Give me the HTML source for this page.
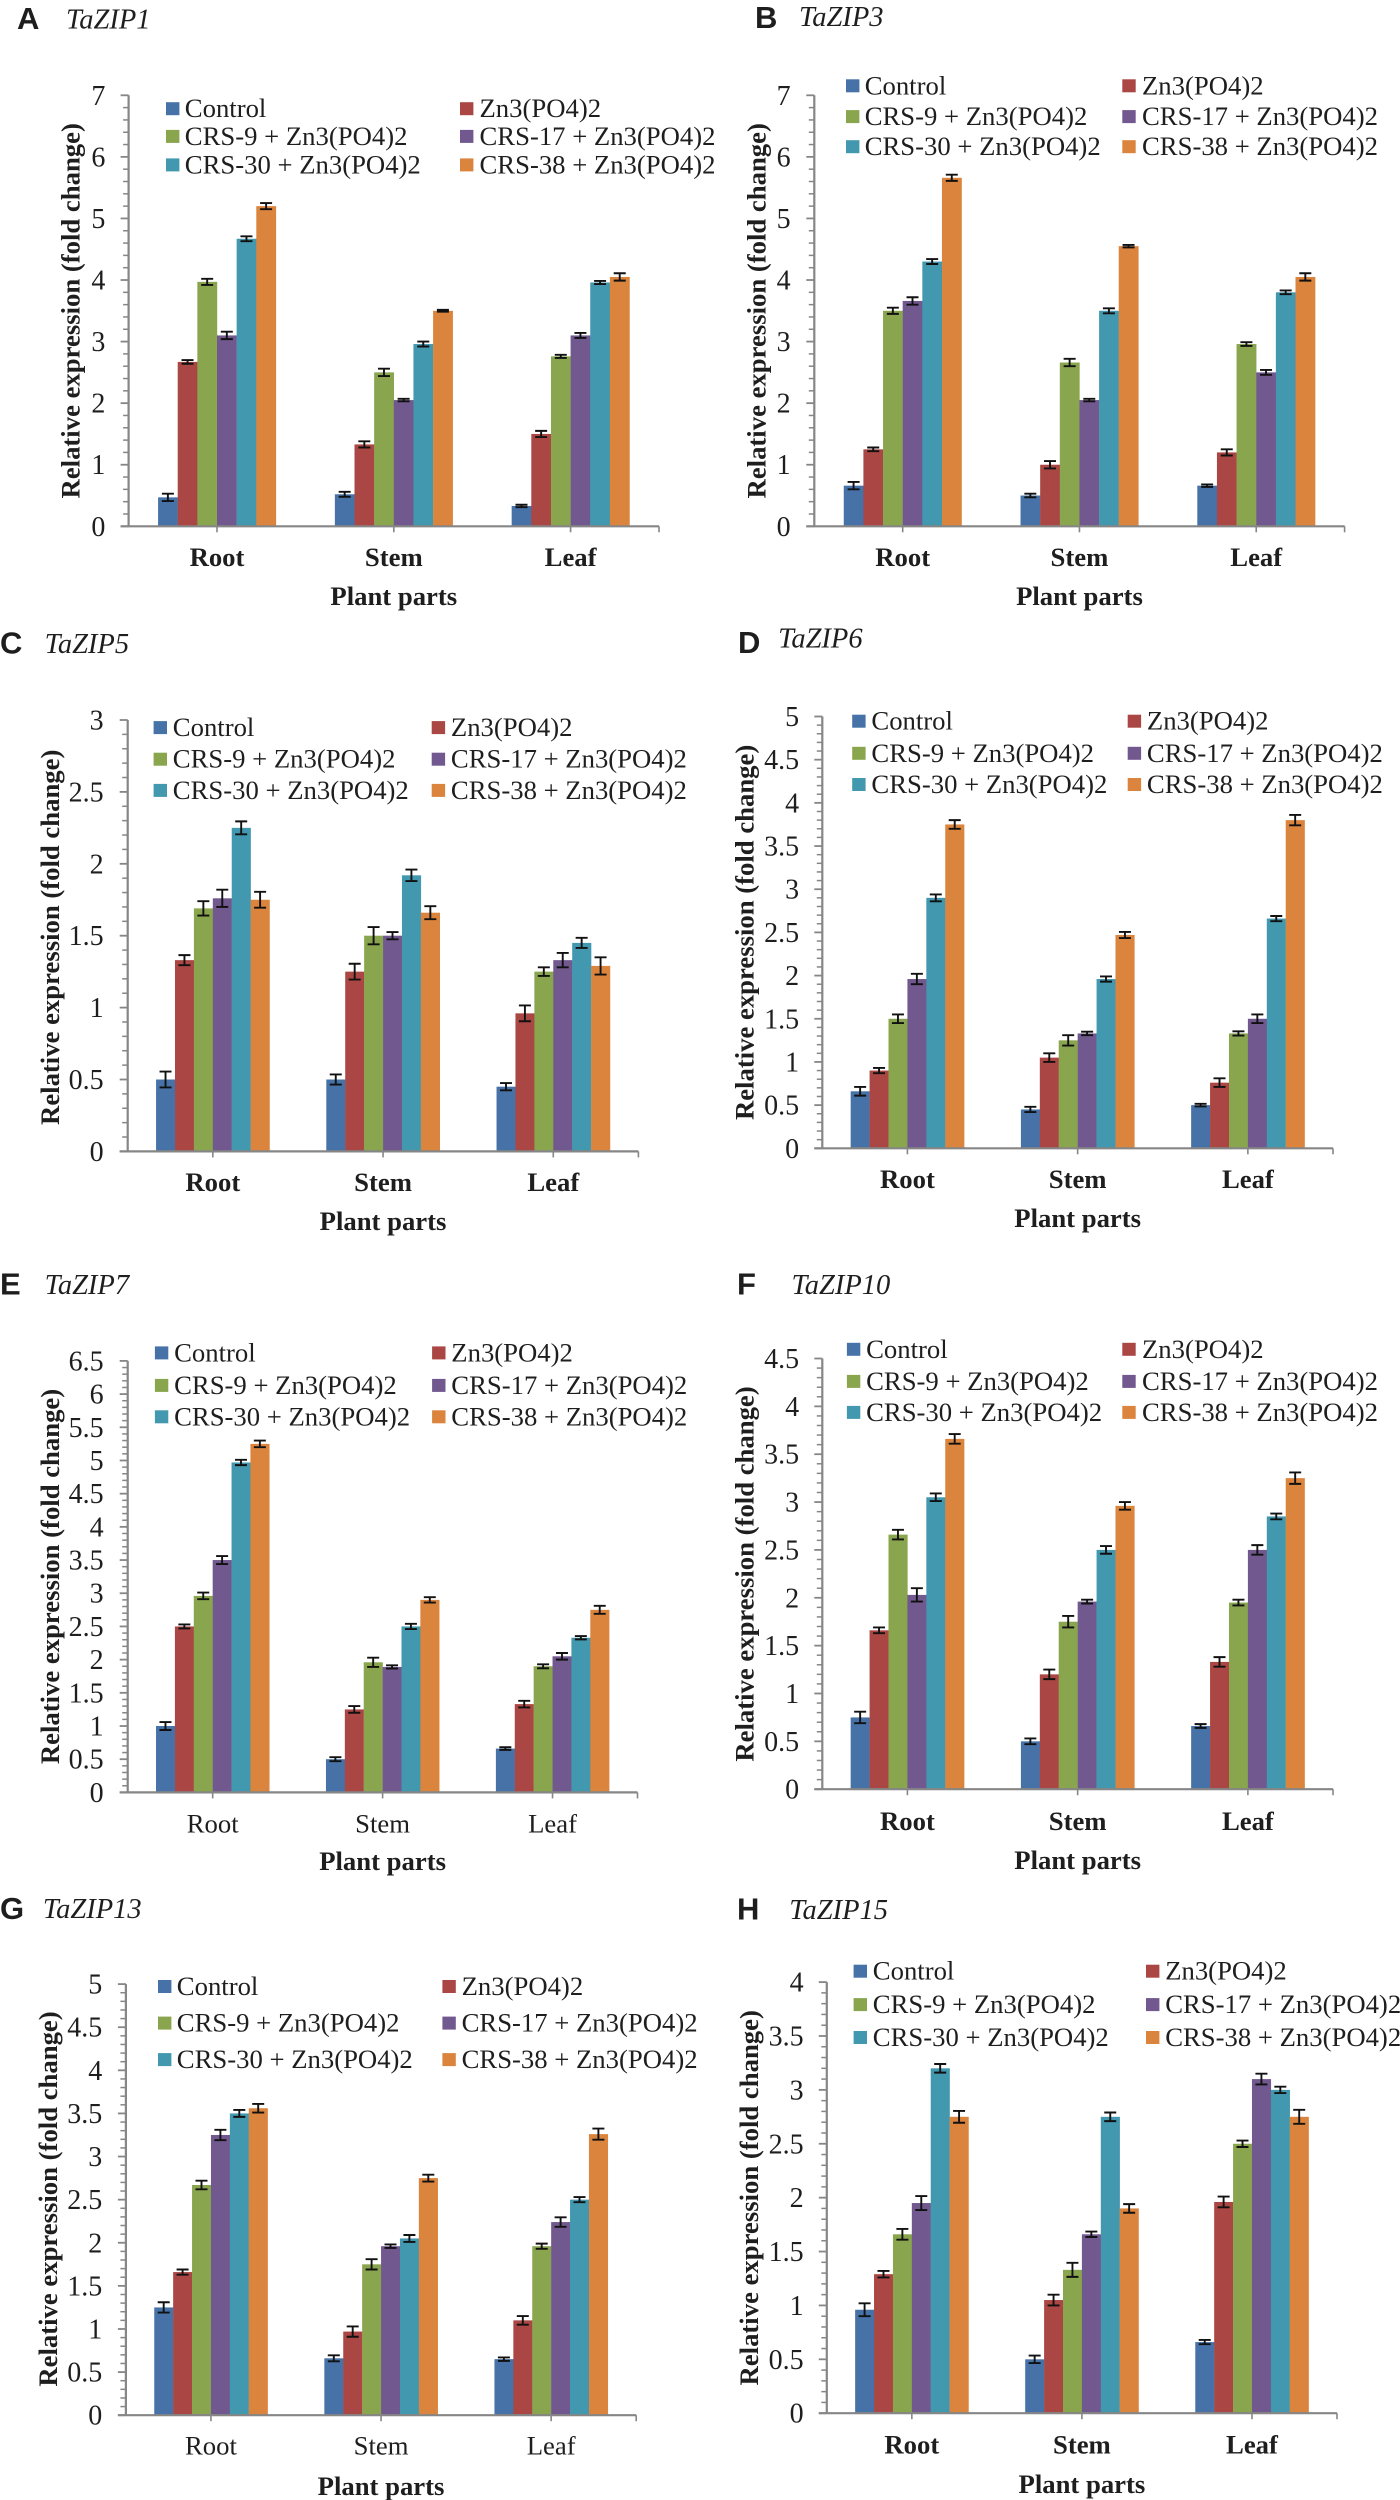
<!DOCTYPE html>
<html lang="en">
<head>
<meta charset="utf-8">
<title>TaZIP relative expression in plant parts</title>
<style>
  html, body { margin: 0; padding: 0; background: #ffffff; }
  svg { display: block; }
  text { fill: #1e1e1e; font-family: "Liberation Serif", serif; }
</style>
</head>
<body>
<svg id="figure" xmlns="http://www.w3.org/2000/svg" width="1400" height="2500" viewBox="0 0 1400 2500">
  <rect x="0" y="0" width="1400" height="2500" fill="#ffffff"/>
</svg>
<script>
// ---- shared data ----
const categories = ['Root', 'Stem', 'Leaf'];
const seriesNames = ['Control', 'Zn3(PO4)2', 'CRS-9 + Zn3(PO4)2', 'CRS-17 + Zn3(PO4)2', 'CRS-30 + Zn3(PO4)2', 'CRS-38 + Zn3(PO4)2'];
const seriesColors = ['#4672a8', '#aa4643', '#89a54e', '#71588f', '#4198af', '#db843d'];

// ---- TaZIP1: one row per plant part, one value per series ----
const zip1Ticks = ['0', '1', '2', '3', '4', '5', '6', '7'];
const zip1Root = [0.47, 2.67, 3.97, 3.10, 4.67, 5.20];
const zip1Stem = [0.52, 1.33, 2.50, 2.05, 2.96, 3.50];
const zip1Leaf = [0.33, 1.50, 2.76, 3.10, 3.96, 4.05];
const zip1RootErr = [0.06, 0.03, 0.05, 0.06, 0.04, 0.05];
const zip1StemErr = [0.04, 0.05, 0.06, 0.02, 0.04, 0.015];
const zip1LeafErr = [0.02, 0.05, 0.025, 0.04, 0.025, 0.06];

// ---- TaZIP3 ----
const zip3Ticks = ['0', '1', '2', '3', '4', '5', '6', '7'];
const zip3Root = [0.66, 1.25, 3.50, 3.66, 4.30, 5.66];
const zip3Stem = [0.50, 1.00, 2.66, 2.05, 3.50, 4.55];
const zip3Leaf = [0.66, 1.20, 2.96, 2.50, 3.80, 4.05];
const zip3RootErr = [0.06, 0.03, 0.05, 0.06, 0.04, 0.05];
const zip3StemErr = [0.03, 0.06, 0.06, 0.02, 0.04, 0.02];
const zip3LeafErr = [0.02, 0.05, 0.03, 0.04, 0.03, 0.06];

// ---- TaZIP5 ----
const zip5Ticks = ['0', '0.5', '1', '1.5', '2', '2.5', '3'];
const zip5Root = [0.50, 1.33, 1.69, 1.76, 2.25, 1.75];
const zip5Stem = [0.50, 1.25, 1.50, 1.50, 1.92, 1.66];
const zip5Leaf = [0.45, 0.96, 1.25, 1.33, 1.45, 1.29];
const zip5RootErr = [0.055, 0.035, 0.05, 0.06, 0.045, 0.055];
const zip5StemErr = [0.035, 0.055, 0.06, 0.025, 0.04, 0.045];
const zip5LeafErr = [0.025, 0.055, 0.03, 0.05, 0.035, 0.06];

// ---- TaZIP6 ----
const zip6Ticks = ['0', '0.5', '1', '1.5', '2', '2.5', '3', '3.5', '4', '4.5', '5'];
const zip6Root = [0.66, 0.90, 1.50, 1.96, 2.90, 3.75];
const zip6Stem = [0.45, 1.05, 1.25, 1.33, 1.96, 2.47];
const zip6Leaf = [0.50, 0.76, 1.33, 1.50, 2.66, 3.80];
const zip6RootErr = [0.05, 0.03, 0.05, 0.06, 0.04, 0.05];
const zip6StemErr = [0.03, 0.05, 0.06, 0.02, 0.03, 0.035];
const zip6LeafErr = [0.015, 0.05, 0.025, 0.05, 0.03, 0.06];

// ---- TaZIP7 ----
const zip7Ticks = ['0', '0.5', '1', '1.5', '2', '2.5', '3', '3.5', '4', '4.5', '5', '5.5', '6', '6.5'];
const zip7Root = [1.00, 2.50, 2.96, 3.50, 4.97, 5.25];
const zip7Stem = [0.50, 1.25, 1.96, 1.89, 2.50, 2.90];
const zip7Leaf = [0.66, 1.33, 1.90, 2.05, 2.33, 2.75];
const zip7RootErr = [0.06, 0.03, 0.05, 0.06, 0.04, 0.05];
const zip7StemErr = [0.03, 0.05, 0.07, 0.025, 0.04, 0.04];
const zip7LeafErr = [0.02, 0.05, 0.03, 0.05, 0.025, 0.06];

// ---- TaZIP10 ----
const zip10Ticks = ['0', '0.5', '1', '1.5', '2', '2.5', '3', '3.5', '4', '4.5'];
const zip10Root = [0.75, 1.66, 2.66, 2.03, 3.05, 3.66];
const zip10Stem = [0.50, 1.20, 1.75, 1.96, 2.50, 2.96];
const zip10Leaf = [0.66, 1.33, 1.95, 2.50, 2.85, 3.25];
const zip10RootErr = [0.06, 0.03, 0.05, 0.07, 0.04, 0.05];
const zip10StemErr = [0.03, 0.05, 0.06, 0.02, 0.04, 0.04];
const zip10LeafErr = [0.02, 0.05, 0.03, 0.05, 0.03, 0.06];

// ---- TaZIP13 ----
const zip13Ticks = ['0', '0.5', '1', '1.5', '2', '2.5', '3', '3.5', '4', '4.5', '5'];
const zip13Root = [1.25, 1.66, 2.67, 3.25, 3.50, 3.56];
const zip13Stem = [0.66, 0.97, 1.75, 1.96, 2.05, 2.75];
const zip13Leaf = [0.65, 1.10, 1.96, 2.24, 2.50, 3.26];
const zip13RootErr = [0.06, 0.03, 0.05, 0.06, 0.04, 0.05];
const zip13StemErr = [0.035, 0.06, 0.06, 0.02, 0.04, 0.04];
const zip13LeafErr = [0.02, 0.05, 0.03, 0.055, 0.03, 0.065];

// ---- TaZIP15 ----
const zip15Ticks = ['0', '0.5', '1', '1.5', '2', '2.5', '3', '3.5', '4'];
const zip15Root = [0.96, 1.29, 1.66, 1.95, 3.20, 2.75];
const zip15Stem = [0.50, 1.05, 1.33, 1.66, 2.75, 1.90];
const zip15Leaf = [0.66, 1.96, 2.50, 3.10, 3.00, 2.75];
const zip15RootErr = [0.06, 0.03, 0.05, 0.065, 0.04, 0.055];
const zip15StemErr = [0.035, 0.05, 0.065, 0.025, 0.04, 0.04];
const zip15LeafErr = [0.02, 0.05, 0.03, 0.05, 0.03, 0.065];

// ---- panel layout (pixel geometry, separate from the data) ----
const panelLayouts = [
  { letter: 'A', gene: 'TaZIP1', ticks: zip1Ticks, values: [zip1Root, zip1Stem, zip1Leaf], errors: [zip1RootErr, zip1StemErr, zip1LeafErr], boldCats: true,
    axisX: 128.6, top: 95.3, base: 526.3, right: 659, letterX: 17, letterY: 29, geneX: 66, geneY: 28.5,
    swatch1: 166, text1: 184.8, swatch2: 460, text2: 479.5, rows: [108.7, 136.4, 164.9], tickRight: 105.4,
    titleX: 79.5, titleY: 310.8, catY: 566.2, xTitleY: 605 },
  { letter: 'B', gene: 'TaZIP3', ticks: zip3Ticks, values: [zip3Root, zip3Stem, zip3Leaf], errors: [zip3RootErr, zip3StemErr, zip3LeafErr], boldCats: true,
    axisX: 814.3, top: 95.3, base: 526.3, right: 1344.6, letterX: 755, letterY: 28, geneX: 799, geneY: 26.1,
    swatch1: 846, text1: 864.7, swatch2: 1122.3, text2: 1142, rows: [85.8, 116.6, 146.7], tickRight: 790.6,
    titleX: 765.6, titleY: 310.8, catY: 566.2, xTitleY: 605 },
  { letter: 'C', gene: 'TaZIP5', ticks: zip5Ticks, values: [zip5Root, zip5Stem, zip5Leaf], errors: [zip5RootErr, zip5StemErr, zip5LeafErr], boldCats: true,
    axisX: 127.7, top: 720, base: 1151.4, right: 638.4, letterX: 0, letterY: 653.5, geneX: 44.6, geneY: 652.8,
    swatch1: 153.6, text1: 172.8, swatch2: 431.7, text2: 450.9, rows: [727.6, 759.2, 790.4], tickRight: 103.6,
    titleX: 59, titleY: 937.3, catY: 1191, xTitleY: 1230 },
  { letter: 'D', gene: 'TaZIP6', ticks: zip6Ticks, values: [zip6Root, zip6Stem, zip6Leaf], errors: [zip6RootErr, zip6StemErr, zip6LeafErr], boldCats: true,
    axisX: 822.3, top: 716.5, base: 1148.3, right: 1333, letterX: 738, letterY: 653, geneX: 778.1, geneY: 647.7,
    swatch1: 852.2, text1: 871.4, swatch2: 1127.7, text2: 1146.9, rows: [721.2, 753.3, 784.5], tickRight: 799.1,
    titleX: 753.6, titleY: 932.4, catY: 1188.2, xTitleY: 1227 },
  { letter: 'E', gene: 'TaZIP7', ticks: zip7Ticks, values: [zip7Root, zip7Stem, zip7Leaf], errors: [zip7RootErr, zip7StemErr, zip7LeafErr], boldCats: false,
    axisX: 127.7, top: 1360.9, base: 1792.4, right: 637.5, letterX: 0, letterY: 1294.5, geneX: 44.6, geneY: 1294.2,
    swatch1: 154.9, text1: 174.1, swatch2: 432.1, text2: 451.3, rows: [1352.9, 1385.4, 1416.8], tickRight: 103.6,
    titleX: 59, titleY: 1576.5, catY: 1832.6, xTitleY: 1870 },
  { letter: 'F', gene: 'TaZIP10', ticks: zip10Ticks, values: [zip10Root, zip10Stem, zip10Leaf], errors: [zip10RootErr, zip10StemErr, zip10LeafErr], boldCats: true,
    axisX: 822.3, top: 1358.5, base: 1789.2, right: 1333, letterX: 737, letterY: 1294.5, geneX: 791.5, geneY: 1294.2,
    swatch1: 846.9, text1: 866.1, swatch2: 1122.3, text2: 1142, rows: [1349.3, 1381.4, 1412.4], tickRight: 799.1,
    titleX: 753.6, titleY: 1574, catY: 1829.8, xTitleY: 1869 },
  { letter: 'G', gene: 'TaZIP13', ticks: zip13Ticks, values: [zip13Root, zip13Stem, zip13Leaf], errors: [zip13RootErr, zip13StemErr, zip13LeafErr], boldCats: false,
    axisX: 125.9, top: 1984.1, base: 2415.2, right: 636.2, letterX: 0, letterY: 1918.8, geneX: 42.9, geneY: 1918.2,
    swatch1: 158, text1: 176.8, swatch2: 442.4, text2: 461.6, rows: [1986.5, 2023.1, 2059.6], tickRight: 102.2,
    titleX: 57.1, titleY: 2199, catY: 2454.6, xTitleY: 2494.8 },
  { letter: 'H', gene: 'TaZIP15', ticks: zip15Ticks, values: [zip15Root, zip15Stem, zip15Leaf], errors: [zip15RootErr, zip15StemErr, zip15LeafErr], boldCats: true,
    axisX: 826.8, top: 1982.1, base: 2413.2, right: 1337, letterX: 737, letterY: 1919.5, geneX: 789.3, geneY: 1919,
    swatch1: 853.6, text1: 872.8, swatch2: 1146, text2: 1165.2, rows: [1971.2, 2004.6, 2037.5], tickRight: 803.6,
    titleX: 758, titleY: 2197.8, catY: 2453.4, xTitleY: 2492.8 }
];

const SVG_NS = 'http://www.w3.org/2000/svg';
const AXIS_COLOR = '#868686';
const FIGURE = document.getElementById('figure');

function make(parent, tag, attrs, content) {
  const node = document.createElementNS(SVG_NS, tag);
  for (const key in attrs) node.setAttribute(key, attrs[key]);
  if (content !== undefined) node.textContent = content;
  parent.appendChild(node);
  return node;
}

function drawPanel(p) {
  const slug = p.gene.toLowerCase();
  const tickValues = p.ticks.map(Number);
  const yMax = tickValues[tickValues.length - 1];
  const yMin = tickValues[0];
  const yScale = function (v) { return p.base - (v - yMin) / (yMax - yMin) * (p.base - p.top); };
  const groupWidth = (p.right - p.axisX) / categories.length;
  const barWidth = groupWidth / 9;
  const xGroup = function (i) { return p.axisX + groupWidth * (i + 0.5); };
  const xBar = function (i, s) { return xGroup(i) + barWidth * (s - seriesNames.length / 2); };

  const panel = make(FIGURE, 'g', {});
  
  

  const letter = make(panel, 'text', { x: p.letterX, y: p.letterY, 'font-size': 31, 'font-weight': 'bold', style: 'font-family:"Liberation Sans",sans-serif' }, p.letter);
  
  

  const gene = make(panel, 'text', { x: p.geneX, y: p.geneY, 'font-size': 28.5, 'font-style': 'italic' }, p.gene);
  
  

  // bars and error bars
  categories.forEach(function (cat, i) {
    seriesNames.forEach(function (name, s) {
      const value = p.values[i][s];
      const err = p.errors[i][s];
      const top = yScale(value);
      const bar = make(panel, 'rect', { x: xBar(i, s), y: top, width: barWidth + 0.2, height: p.base - top, fill: seriesColors[s] });
      
      

      const cx = xBar(i, s) + barWidth / 2;
      const hi = yScale(value + err);
      const lo = yScale(value - err);
      const d = 'M' + (cx - 6) + ' ' + hi + 'H' + (cx + 6) + 'M' + cx + ' ' + hi + 'V' + lo + 'M' + (cx - 6) + ' ' + lo + 'H' + (cx + 6);
      const whisker = make(panel, 'path', { d: d, fill: 'none', stroke: '#111111', 'stroke-width': 1.9 });
      
      
    });
  });

  // y axis
  const yAxis = make(panel, 'line', { x1: p.axisX, x2: p.axisX, y1: p.top, y2: p.base, stroke: AXIS_COLOR, 'stroke-width': 2.2 });
  
  

  const majorStep = tickValues[1] - tickValues[0];
  const minorStep = majorStep / 5;
  for (let m = 1; m < (yMax - yMin) / minorStep - 0.5; m++) {
    if (m % 5 === 0) continue;
    const my = yScale(yMin + m * minorStep);
    const minor = make(panel, 'line', { x1: p.axisX - 5.5, x2: p.axisX, y1: my, y2: my, stroke: AXIS_COLOR, 'stroke-width': 1.5 });
    
    
  }

  p.ticks.forEach(function (label, t) {
    const ty = yScale(tickValues[t]);
    const mark = make(panel, 'line', { x1: p.axisX - 8, x2: p.axisX, y1: ty, y2: ty, stroke: AXIS_COLOR, 'stroke-width': 1.8 });
    
    
    const tickText = make(panel, 'text', { x: p.tickRight, y: ty + 9.5, 'font-size': 28, 'text-anchor': 'end' }, label);
    
    
  });

  // x axis
  const xAxis = make(panel, 'line', { x1: p.axisX - 8, x2: p.right, y1: p.base, y2: p.base, stroke: AXIS_COLOR, 'stroke-width': 2.2 });
  
  

  const endTick = make(panel, 'line', { x1: p.right, x2: p.right, y1: p.base, y2: p.base + 6, stroke: AXIS_COLOR, 'stroke-width': 1.6 });
  
  

  categories.forEach(function (cat, i) {
    const gx = xGroup(i);
    const tick = make(panel, 'line', { x1: gx, x2: gx, y1: p.base, y2: p.base + 6, stroke: AXIS_COLOR, 'stroke-width': 1.6 });
    
    
    const catText = make(panel, 'text', { x: gx, y: p.catY, 'font-size': 26.7, 'text-anchor': 'middle', 'font-weight': p.boldCats ? 'bold' : 'normal' }, cat);
    
    
  });

  const xTitle = make(panel, 'text', { x: xGroup(1), y: p.xTitleY, 'font-size': 26.7, 'font-weight': 'bold', 'text-anchor': 'middle' }, 'Plant parts');
  
  

  const yTitle = make(panel, 'text', { x: 0, y: 0, transform: 'translate(' + p.titleX + ' ' + p.titleY + ') rotate(-90)', 'font-size': 26.7, 'font-weight': 'bold', 'text-anchor': 'middle' }, 'Relative expression (fold change)');
  
  

  // legend: two columns, three rows
  const legend = make(panel, 'g', {});
  
  
  seriesNames.forEach(function (name, s) {
    const row = p.rows[Math.floor(s / 2)];
    const second = s % 2 === 1;
    const swatch = make(legend, 'rect', { x: second ? p.swatch2 : p.swatch1, y: row - 6.5, width: 13.4, height: 13, fill: seriesColors[s] });
    
    
    const entry = make(legend, 'text', { x: second ? p.text2 : p.text1, y: row + 8.5, 'font-size': 26.7 }, name);
    
    
  });
}

panelLayouts.forEach(drawPanel);
</script>
</body>
</html>
